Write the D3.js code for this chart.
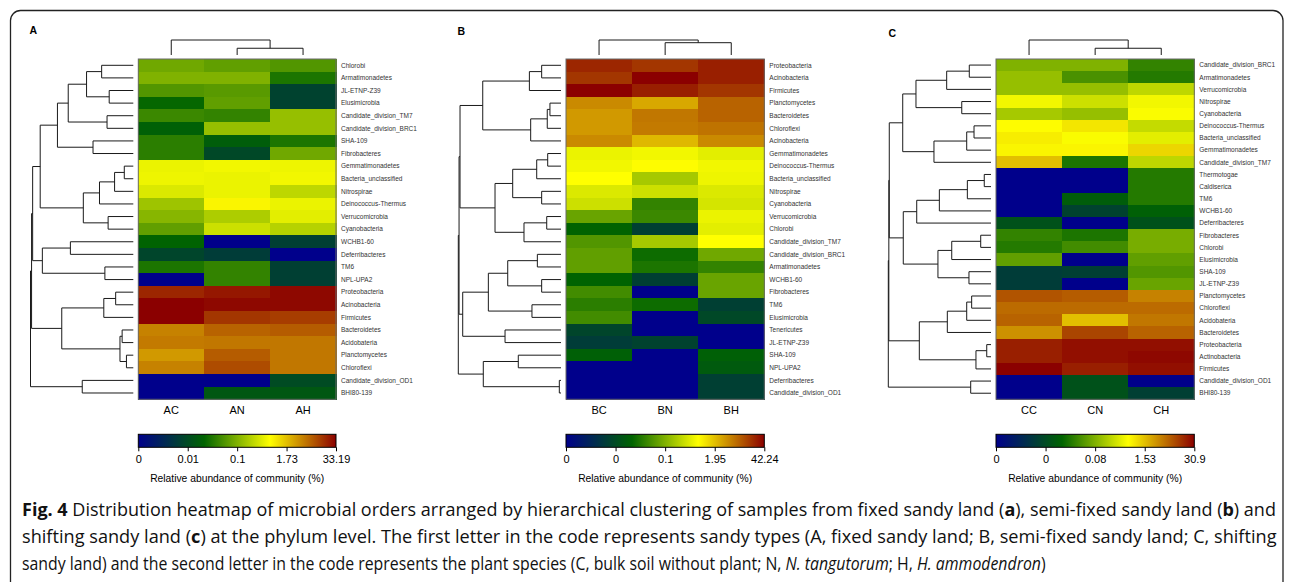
<!DOCTYPE html>
<html>
<head>
<meta charset="utf-8">
<script src="https://cdn.jsdelivr.net/npm/d3@7"></script>
<style>
  body { margin: 0; background: #fff; }
  svg text { font-family: "Liberation Sans", Arial, sans-serif; }
</style>
</head>
<body>
<svg width="1293" height="582"></svg>
<script>
// cell values are given as the position on the colour key (0 = left end, 1 = right end)
const samplesA = ['AC', 'AN', 'AH'];
const samplesB = ['BC', 'BN', 'BH'];
const samplesC = ['CC', 'CN', 'CH'];

const rowsA = ['Chlorobi', ' Armatimonadetes', 'JL-ETNP-Z39', 'Elusimicrobia', 'Candidate_division_TM7',
  'Candidate_division_BRC1', 'SHA-109', 'Fibrobacteres', 'Gemmatimonadetes', 'Bacteria_unclassified',
  'Nitrospirae', 'Deinococcus-Thermus', 'Verrucomicrobia', 'Cyanobacteria', 'WCHB1-60', 'Deferribacteres',
  'TM6', 'NPL-UPA2', 'Proteobacteria', 'Acinobacteria', 'Firmicutes', 'Bacteroidetes', 'Acidobateria',
  'Planctomycetes', 'Chloroflexi', 'Candidate_division_OD1', 'BHI80-139'];
const keyA = [
  [.48, .46, .44], [.50, .50, .37], [.44, .45, .22], [.34, .46, .22], [.41, .40, .53],
  [.32, .53, .53], [.39, .31, .37], [.39, .24, .48], [.64, .65, .645], [.645, .64, .65],
  [.62, .64, .58], [.54, .68, .64], [.51, .56, .63], [.46, .60, .57], [.33, 0, .21],
  [.23, .20, 0], [.37, .40, .21], [0, .40, .21], [.95, .97, .99], [1, .99, .99],
  [1, .93, .92], [.83, .87, .88], [.84, .845, .845], [.80, .88, .845], [.83, .90, .845],
  [0, 0, .25], [0, .29, .29]];

const rowsB = ['Proteobacteria', 'Acinobacteria', 'Firmicutes', 'Planctomycetes', 'Bacteroidetes',
  'Chloroflexi', 'Acinobacteria', 'Gemmatimonadetes', 'Deinococcus-Thermus', 'Bacteria_unclassified',
  'Nitrospirae', 'Cyanobacteria', 'Verrucomicrobia', 'Chlorobi', 'Candidate_division_TM7',
  'Candidate_division_BRC1', 'Armatimonadetes', 'WCHB1-60', 'Fibrobacteres', 'TM6', 'Elusimicrobia',
  'Tenericutes', 'JL-ETNP-Z39', 'SHA-109', 'NPL-UPA2', 'Deferribacteres', 'Candidate_division_OD1'];
const keyB = [
  [.95, .93, .96], [.93, 1, .96], [1, .96, .93], [.82, .78, .87], [.80, .845, .87],
  [.80, .84, .85], [.82, .76, .82], [.64, .65, .63], [.65, .67, .65], [.667, .55, .645],
  [.62, .60, .62], [.60, .40, .61], [.47, .41, .64], [.33, .21, .63], [.44, .55, .667],
  [.46, .35, .48], [.46, .37, .40], [.33, .21, .47], [.42, 0, .47], [.39, .35, .21],
  [.42, 0, .24], [.23, 0, 0], [.20, .22, 0], [.32, 0, .32], [0, 0, .30],
  [0, 0, .21], [0, 0, .21]];

const rowsC = ['Candidate_division_BRC1', 'Armatimonadetes', 'Verrucomicrobia', 'Nitrospirae', 'Cyanobacteria',
  'Deinococcus-Thermus', 'Bacteria_unclassified', 'Gemmatimonadetes', 'Candidate_division_TM7', 'Thermotogae',
  'Caldiserica', 'TM6', 'WCHB1-60', 'Deferribacteres', 'Fibrobacteres', 'Chlorobi', 'Elusimicrobia',
  'SHA-109', 'JL-ETNP-Z39', 'Planctomycetes', 'Chloroflexi', 'Acidobateria', 'Bacteroidetes',
  'Proteobacteria', 'Actinobacteria', 'Firmicutes', 'Candidate_division_OD1', 'BHI80-139'];
const keyC = [
  [.50, .50, .40], [.53, .43, .38], [.53, .53, .58], [.65, .60, .65], [.55, .53, .66],
  [.67, .70, .59], [.69, .66, .63], [.68, .68, .72], [.75, .37, .58], [0, 0, .38],
  [0, 0, .38], [0, .31, .38], [0, .22, .32], [.27, 0, .27], [.40, .37, .49],
  [.38, .42, .49], [.46, 0, .46], [.20, .21, .44], [.20, 0, .47], [.89, .88, .83],
  [.86, .86, .86], [.87, .75, .845], [.81, .91, .87], [.96, .98, .98], [.96, .98, .99],
  [1, .96, .98], [0, .27, 0], [0, .27, .21]];

// row dendrograms: [height, left, right]; a number is a row index
const treeA = [100,
  [99,
    [98,
      [91,
        [75, [65, [48, [34, 0, 1], [27, 2, 3]], [29, 4, 5]], [42, 6, 7]],
        [51, [36, [22, [13, 8, 9], 10], 11], [28, 12, 13]]],
      [89, [63, 14, 15], [31, 16, 17]]],
    [71, [32, [21, 18, 19], 20], [17, [15, 21, 22], [11, 23, 24]]]],
  [52, 25, 26]];
const treeB = [100,
  [99.3,
    [98.4,
      [77.3, [34, [22.6, 0, 1], 2], [32.8, [17.4, [14.9, 3, 4], 5], 6]],
      [65.9, [49.5, [27.2, [17, 7, 8], 9], [22.6, 10, 11]], [39, [17.9, 12, 13], 14]]],
    [95.9, [72.1, [54.1, [26.6, 15, 16], [22.6, 17, 18]], [31.6, 19, 20]], [56.6, 21, 22]]],
  [76.8, [44.3, 23, 24], [6.2, 25, 26]]];
const treeC = [100,
  [99.5,
    [99.1,
      [86.6, [74.3, [45.8, [24.8, 0, 1], 2], [31.8, 3, 4]], [57.6, [27.2, [20.4, 5, 6], 7], 8]],
      [86.1, [73.6, [52.6, [26.6, [10.9, 9, 10], 11], 12], 13],
        [53.9, [41.1, [14.2, 14, 15], 16], [25.1, 17, 18]]]],
    [71.2, [45.2, [27.2, [22.6, 19, 20], 21], 22], [18.6, [8.6, 23, 24], 25]]],
  [23.5, 26, 27]];

// sample dendrograms (column index leaves)
const colTreeA = [1, 0, [0.45, 1, 2]];
const colTreeB = [1, 0, [0.82, 1, 2]];
const colTreeC = [1, 0, [0.45, 1, 2]];

// colour key tick labels
const ticksA = ['0', '0.01', '0.1', '1.73', '33.19'];
const ticksB = ['0', '0', '0.1', '1.95', '42.24'];
const ticksC = ['0', '0', '0.08', '1.53', '30.9'];

const svg = d3.select('svg');
const hmTop = 59, hmBottom = 399.3;
const keyColors = ['#00008b', '#006400', '#ffff00', '#8b0000'];
const color = d3.scaleLinear().domain([0, 1/3, 2/3, 1]).range(keyColors);

// outer frame
svg.append('rect')
  .attr('x', 10.5).attr('y', 10.5).attr('width', 1272.5).attr('height', 620)
  .attr('rx', 10).attr('fill', 'none').attr('stroke', '#222').attr('stroke-width', 1.3);

function drawPanel(p) {
  const g = svg.append('g');
  const x = d3.scaleBand().domain(d3.range(p.samples.length)).range([p.x0, p.x1]);
  const y = d3.scaleBand().domain(d3.range(p.rows.length)).range([hmTop, hmBottom]);

  g.append('text').text(p.label)
    .attr('x', p.labelX).attr('y', p.labelY)
    .attr('font-size', 10.5).attr('font-weight', 'bold');

  // cells
  const cells = p.key.flatMap((r, i) => r.map((v, j) => ({i, j, v})));
  g.append('g').attr('shape-rendering', 'crispEdges')
    .selectAll('rect').data(cells).enter().append('rect')
    .attr('x', d => x(d.j)).attr('y', d => y(d.i))
    .attr('width', x.bandwidth() + 0.6).attr('height', y.bandwidth() + 0.6)
    .attr('fill', d => color(d.v));
  g.append('rect')
    .attr('x', p.x0).attr('y', hmTop).attr('width', p.x1 - p.x0).attr('height', hmBottom - hmTop)
    .attr('fill', 'none').attr('stroke', '#6b6b6b').attr('stroke-width', 1);

  // row labels
  g.append('g').selectAll('text').data(p.rows).enter().append('text')
    .attr('x', p.x1 + 5).attr('y', (d, i) => y(i) + y.bandwidth() / 2)
    .attr('dy', '0.35em').attr('font-size', 6.5).attr('fill', '#333')
    .text(d => d);

  // column labels
  g.append('g').selectAll('text').data(p.samples).enter().append('text')
    .attr('x', (d, j) => x(j) + x.bandwidth() / 2).attr('y', 413.5)
    .attr('text-anchor', 'middle').attr('font-size', 11)
    .text(d => d);

  // row dendrogram
  const hx = d3.scaleLinear().domain([0, 100]).range([p.x0, p.rootX]);
  const rp = d3.path();
  function walkRow(node) {
    if (typeof node === 'number') return {pos: y(node) + y.bandwidth() / 2, at: p.x0 - 5};
    const a = walkRow(node[1]), b = walkRow(node[2]);
    const nx = hx(node[0]);
    rp.moveTo(a.at, a.pos); rp.lineTo(nx, a.pos); rp.lineTo(nx, b.pos); rp.lineTo(b.at, b.pos);
    return {pos: (a.pos + b.pos) / 2, at: nx};
  }
  walkRow(p.rowTree);
  g.append('path').attr('d', rp.toString())
    .attr('fill', 'none').attr('stroke', '#1a1a1a').attr('stroke-width', 1);

  // sample dendrogram
  const hy = d3.scaleLinear().domain([0, 1]).range([hmTop - 4, 40]);
  const cp = d3.path();
  function walkCol(node) {
    if (typeof node === 'number') return {pos: x(node) + x.bandwidth() / 2, at: hmTop - 4};
    const a = walkCol(node[1]), b = walkCol(node[2]);
    const ny = hy(node[0]);
    cp.moveTo(a.pos, a.at); cp.lineTo(a.pos, ny); cp.lineTo(b.pos, ny); cp.lineTo(b.pos, b.at);
    return {pos: (a.pos + b.pos) / 2, at: ny};
  }
  walkCol(p.colTree);
  g.append('path').attr('d', cp.toString())
    .attr('fill', 'none').attr('stroke', '#1a1a1a').attr('stroke-width', 1);

  // colour key
  const gid = 'key' + p.label;
  const grad = svg.append('defs').append('linearGradient').attr('id', gid);
  color.domain().forEach((t, k) => {
    grad.append('stop').attr('offset', t).attr('stop-color', keyColors[k]);
  });
  g.append('rect')
    .attr('x', p.x0).attr('y', 434.3).attr('width', p.x1 - p.x0).attr('height', 13)
    .attr('fill', `url(#${gid})`).attr('stroke', '#000').attr('stroke-width', 1);
  const kx = d3.scaleLinear().domain([0, p.ticks.length - 1]).range([p.x0, p.x1]);
  const axis = g.append('g').attr('transform', 'translate(0,447.3)')
    .call(d3.axisBottom(kx).tickValues(d3.range(p.ticks.length))
      .tickFormat(i => p.ticks[i]).tickSize(4).tickPadding(3.5));
  axis.select('.domain').remove();
  axis.selectAll('line').attr('stroke', '#000');
  axis.selectAll('text').attr('font-size', 11).attr('fill', '#000')
    .attr('font-family', '"Liberation Sans", Arial, sans-serif');
  g.append('text').text('Relative abundance of community (%)')
    .attr('x', (p.x0 + p.x1) / 2).attr('y', 482)
    .attr('text-anchor', 'middle').attr('font-size', 10.3);
}

drawPanel({label: 'A', labelX: 29.5, labelY: 34, samples: samplesA, rows: rowsA, key: keyA,
  rowTree: treeA, colTree: colTreeA, ticks: ticksA, x0: 138.3, x1: 336, rootX: 30.5});
drawPanel({label: 'B', labelX: 457.5, labelY: 35, samples: samplesB, rows: rowsB, key: keyB,
  rowTree: treeB, colTree: colTreeB, ticks: ticksB, x0: 566, x1: 764.3, rootX: 458.3});
drawPanel({label: 'C', labelX: 888.5, labelY: 37, samples: samplesC, rows: rowsC, key: keyC,
  rowTree: treeC, colTree: colTreeC, ticks: ticksC, x0: 996, x1: 1194.3, rootX: 888.3});

// caption: each line is set at its natural width, then squeezed uniformly to fit
const captionLines = [
  [['Fig. 4', 'b'], [' Distribution heatmap of microbial orders arranged by hierarchical clustering of samples from fixed sandy land (', ''],
    ['a', 'b'], ['), semi-fixed sandy land (', ''], ['b', 'b'], [') and', '']],
  [['shifting sandy land (', ''], ['c', 'b'], [') at the phylum level. The first letter in the code represents sandy types (A, fixed sandy land; B, semi-fixed sandy land; C, shifting', '']],
  [['sandy land) and the second letter in the code represents the plant species (C, bulk soil without plant; N, ', ''],
    ['N. tangutorum', 'i'], ['; H, ', ''], ['H. ammodendron', 'i'], [')', '']]
];
const captionWidths = [1255, 1255, 1024];
const cap = svg.append('g');
captionLines.forEach((line, k) => {
  const t = cap.append('text')
    .attr('x', 0).attr('y', 0)
    .attr('font-size', 17.5).attr('fill', '#111')
    .style('font-family', '"Open Sans", sans-serif');
  line.forEach(([s, f]) => {
    const ts = t.append('tspan').text(s);
    if (f === 'b') ts.attr('font-weight', 'bold');
    if (f === 'i') ts.attr('font-style', 'italic');
  });
  const natural = t.node().getComputedTextLength();
  t.attr('transform', `translate(22,${515.5 + k * 27}) scale(${captionWidths[k] / natural},1)`);
});
</script>
</body>
</html>
